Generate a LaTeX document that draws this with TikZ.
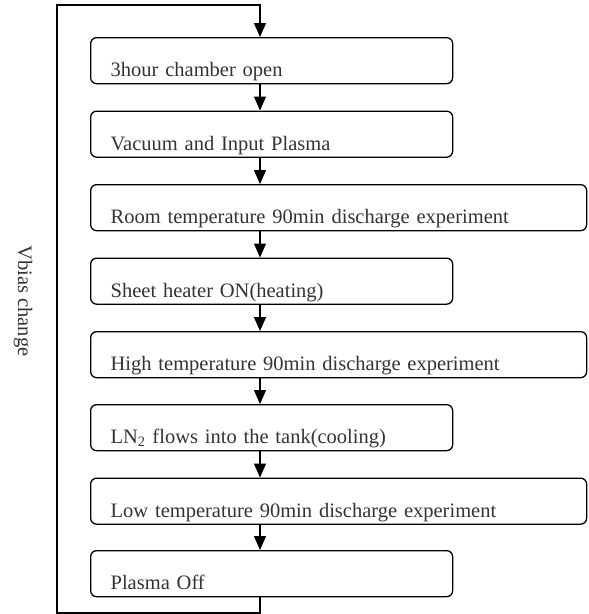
\documentclass[tikz,border=0pt]{standalone}
\usepackage{fontspec}
\setmainfont{Liberation Serif}
\usetikzlibrary{arrows.meta}
\tikzset{stepbox/.style={draw,rounded corners=6pt,line width=1.3pt,anchor=north west,
  align=left,inner xsep=20pt,inner ysep=3pt,text height=36pt,text depth=4pt,
  text=black!80,font=\fontsize{20.5}{22}\selectfont}}
\tikzset{shortbox/.style={stepbox,text width=322pt}}
\tikzset{longbox/.style={stepbox,text width=456pt}}
\tikzset{flow/.style={-{Triangle[width=12pt,length=14pt]},line width=1.3pt}}
\begin{document}
\begin{tikzpicture}[x=1pt,y=-1pt]
            \useasboundingbox (0,0) rectangle (589,614);
            % the steps
            \node[shortbox] (open)   at (90,37)    {3hour chamber open};
            \node[shortbox] (vacuum) at (90,110.5) {Vacuum and Input Plasma};
            \node[longbox]  (room)   at (90,184)   {Room temperature 90min discharge experiment};
            \node[shortbox] (heater) at (90,257.5) {Sheet heater ON(heating)};
            \node[longbox]  (high)   at (90,331)   {High temperature 90min discharge experiment};
            \node[shortbox] (ln)     at (90,404)   {LN\textsubscript{2} flows into the tank(cooling)};
            \node[longbox]  (low)    at (90,477.5) {Low temperature 90min discharge experiment};
            \node[shortbox] (off)    at (90,550)   {Plasma Off};
            % the arrows between the steps
            \coordinate (ax) at (260,0);
            \draw[flow] (open.south -| ax) -- (vacuum.north -| ax);
            \draw[flow] (vacuum.south -| ax) -- (room.north -| ax);
            \draw[flow] (room.south -| ax) -- (heater.north -| ax);
            \draw[flow] (heater.south -| ax) -- (high.north -| ax);
            \draw[flow] (high.south -| ax) -- (ln.north -| ax);
            \draw[flow] (ln.south -| ax) -- (low.north -| ax);
            \draw[flow] (low.south -| ax) -- (off.north -| ax);
            % the loop back
            \coordinate (lb) at (57,613);
            \coordinate (lt) at (57,5);
            \draw[flow] (off.south -| ax) -- (ax |- lb) -- (lb) -- (lt) -- (ax |- lt) -- (open.north -| ax);
            \node[rotate=-90,text=black!80,font=\fontsize{20.5}{22}\selectfont] (vbias) at (23,301) {Vbias change};
\end{tikzpicture}
\end{document}
